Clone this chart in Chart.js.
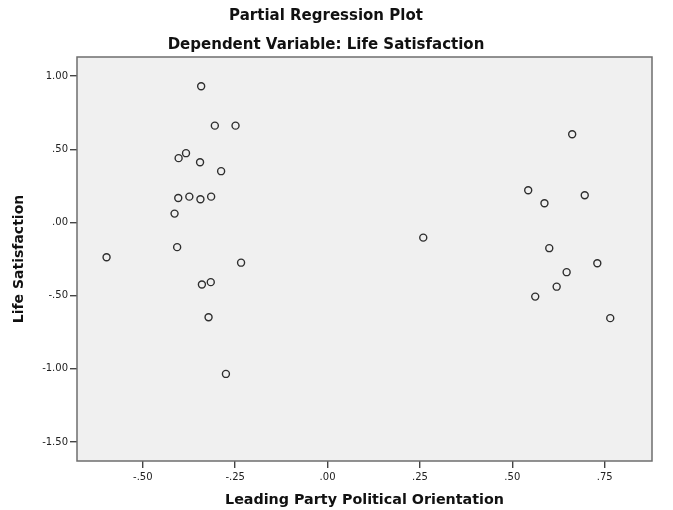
<!DOCTYPE html>
<html lang="en">
<head>
<meta charset="UTF-8">
<title>Partial Regression Plot</title>
<script src="https://cdn.jsdelivr.net/npm/chart.js"></script>
<style>
  body { margin: 0; background: #fff; }
  #grafico { display: block; }
</style>
</head>
<body>
<canvas id="grafico" width="673" height="510"></canvas>
<script>
  // Leading Party Political Orientation (x) vs Life Satisfaction (y), partial residuals
  var orientation = [-0.342, -0.305, -0.249, -0.383, -0.403, -0.345, -0.288, -0.404, -0.374, -0.344,
                     -0.315, -0.414, -0.407, -0.598, -0.234, -0.316, -0.340, -0.322, -0.275,
                     0.259,
                     0.662, 0.543, 0.696, 0.587, 0.600, 0.730, 0.647, 0.620, 0.562, 0.765];
  var satisfaction = [0.930, 0.661, 0.661, 0.473, 0.439, 0.411, 0.350, 0.167, 0.176, 0.158,
                      0.176, 0.060, -0.169, -0.238, -0.275, -0.408, -0.424, -0.648, -1.035,
                      -0.104,
                      0.602, 0.220, 0.186, 0.131, -0.176, -0.279, -0.340, -0.439, -0.507, -0.654];

  var xTicks = [-0.5, -0.25, 0, 0.25, 0.5, 0.75];
  var xTickLabels = ['-.50', '-.25', '.00', '.25', '.50', '.75'];
  var yTicks = [-1.5, -1, -0.5, 0, 0.5, 1];
  var yTickLabels = ['-1.50', '-1.00', '-.50', '.00', '.50', '1.00'];

  var pontos = orientation.map(function (x, i) {
    return { x: x, y: satisfaction[i] };
  });

  // fundo cinza + moldura da area do grafico
  var moldura = {
    id: 'moldura',
    beforeDatasetsDraw: function (chart) {
      var a = chart.chartArea, ctx = chart.ctx;
      ctx.save();
      ctx.fillStyle = '#f0f0f0';
      ctx.fillRect(a.left, a.top, a.right - a.left, a.bottom - a.top);
      ctx.restore();
    },
    afterDraw: function (chart) {
      var a = chart.chartArea, ctx = chart.ctx;
      ctx.save();
      ctx.strokeStyle = '#6e6e6e';
      ctx.lineWidth = 1.5;
      ctx.strokeRect(a.left, a.top, a.right - a.left, a.bottom - a.top);
      ctx.restore();
    }
  };

  var fonteTitulo = { family: 'DejaVu Sans', size: 15, weight: 'bold' };

  new Chart(document.getElementById('grafico'), {
    type: 'scatter',
    data: {
      datasets: [{
        data: pontos,
        pointRadius: 3.5,
        pointHoverRadius: 3.5,
        pointBorderWidth: 1.4,
        borderColor: '#2e2e2e',
        backgroundColor: 'rgba(0,0,0,0)'
      }]
    },
    options: {
      responsive: false,
      animation: false,
      layout: { padding: { left: 0, right: 21, top: 0, bottom: 0 } },
      plugins: {
        legend: { display: false },
        tooltip: { enabled: false },
        title: {
          display: true,
          text: 'Partial Regression Plot',
          color: '#111',
          font: fonteTitulo,
          padding: { top: 7, bottom: 11.5 }
        },
        subtitle: {
          display: true,
          text: 'Dependent Variable: Life Satisfaction',
          color: '#111',
          font: fonteTitulo,
          padding: { top: 0, bottom: 2.5 }
        }
      },
      scales: {
        x: {
          type: 'linear',
          min: -0.678,
          max: 0.878,
          afterBuildTicks: function (scale) {
            scale.ticks = xTicks.map(function (v) { return { value: v }; });
          },
          afterFit: function (scale) { scale.height = 49; },
          border: { display: false },
          grid: { drawOnChartArea: false, drawTicks: true, tickLength: 7, color: '#444', lineWidth: 1.4 },
          ticks: {
            padding: 3,
            color: '#222',
            font: { family: 'DejaVu Sans', size: 10 },
            callback: function (v) { return xTickLabels[xTicks.indexOf(v)]; }
          },
          title: {
            display: true,
            text: 'Leading Party Political Orientation',
            color: '#111',
            font: { family: 'DejaVu Sans', size: 14.3, weight: 'bold' },
            padding: { top: 0, bottom: 1.4 }
          }
        },
        y: {
          type: 'linear',
          min: -1.63,
          max: 1.13,
          afterBuildTicks: function (scale) {
            scale.ticks = yTicks.map(function (v) { return { value: v }; });
          },
          afterFit: function (scale) { scale.width = 77; },
          border: { display: false },
          grid: { drawOnChartArea: false, drawTicks: true, tickLength: 7, color: '#444', lineWidth: 1.4 },
          ticks: {
            padding: 2,
            color: '#222',
            font: { family: 'DejaVu Sans', size: 10 },
            callback: function (v) { return yTickLabels[yTicks.indexOf(v)]; }
          },
          title: {
            display: true,
            text: 'Life Satisfaction',
            color: '#111',
            font: { family: 'DejaVu Sans', size: 14, weight: 'bold' },
            padding: { top: 11, bottom: 0 }
          }
        }
      }
    },
    plugins: [moldura]
  });
</script>
</body>
</html>
